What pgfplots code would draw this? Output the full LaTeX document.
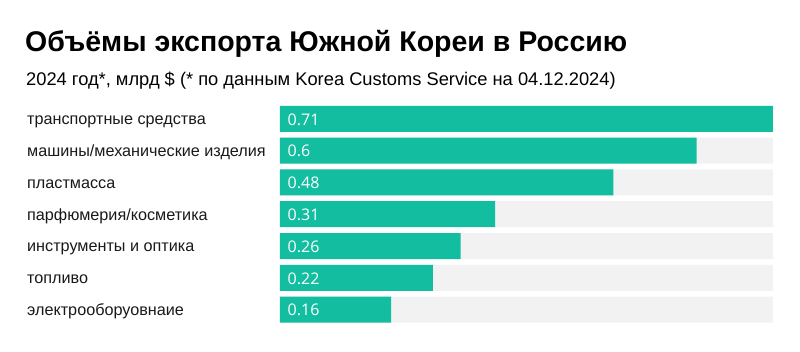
\documentclass[border=0pt]{standalone}
\usepackage{fontspec}
\setmainfont{Liberation Sans}
\newfontfamily\valfont{Open Sans}
\usepackage{pgfplots}
\usepackage{pgfplotstable}
\usetikzlibrary{calc}
\pgfplotsset{compat=1.18}
\definecolor{barteal}{HTML}{12BDA0}
\definecolor{track}{HTML}{F2F2F2}
\pgfplotstableread{
y val track zero label
0 0.71 0.71 0 0.71
1 0.60 0.71 0 0.6
2 0.48 0.71 0 0.48
3 0.31 0.71 0 0.31
4 0.26 0.71 0 0.26
5 0.22 0.71 0 0.22
6 0.16 0.71 0 0.16
}\datatable
\begin{document}
\begin{tikzpicture}[x=1pt,y=1pt]
\begin{axis}[
  scale only axis, width=493pt, height=222.6pt,
  xmin=0, xmax=0.71, ymin=-0.5, ymax=6.5, y dir=reverse,
  axis line style={draw=none}, tick style={draw=none}, major tick length=0pt,
  xtick=\empty,
  ytick={0,1,2,3,4,5,6},
  yticklabels={транспортные средства, машины/механические изделия, пластмасса, парфюмерия/косметика, инструменты и оптика, топливо, электрооборуовнаие},
  yticklabel style={anchor=base west, inner sep=0pt, xshift=-253pt, yshift=-5.8pt, font=\fontsize{16.2}{19}\selectfont, text=black!90},
  clip=false,
]
\addplot[xbar, bar width=26pt, bar shift=0pt, fill=track, draw=none] table[x=track, y=y] {\datatable};
\addplot[xbar, bar width=26pt, bar shift=0pt, fill=barteal, draw=none] table[x=val, y=y] {\datatable};
\addplot[draw=none, mark=none, nodes near coords, point meta=explicit symbolic,
  nodes near coords style={anchor=base west, inner sep=0pt, text=white, font=\valfont\fontsize{16}{19}\selectfont, xshift=7.5pt, yshift=-6.3pt}]
  table[x=zero, y=y, meta=label] {\datatable};
\coordinate (O) at (axis cs:0,6.5);
\end{axis}
\pgfresetboundingbox
\begin{scope}[shift={($(O)+(-280pt,-25.5pt)$)}]
\path[use as bounding box] (0,0) rectangle (800,351);
\node[anchor=base west, inner sep=0pt, font=\fontsize{28.5}{34}\selectfont\bfseries] at (25,299) {Объёмы экспорта Южной Кореи в Россию};
\node[anchor=base west, inner sep=0pt, font=\fontsize{18.3}{22}\selectfont] at (26,265) {2024 год*, млрд \$ (* по данным Korea Customs Service на 04.12.2024)};
\end{scope}
\end{tikzpicture}
\end{document}
